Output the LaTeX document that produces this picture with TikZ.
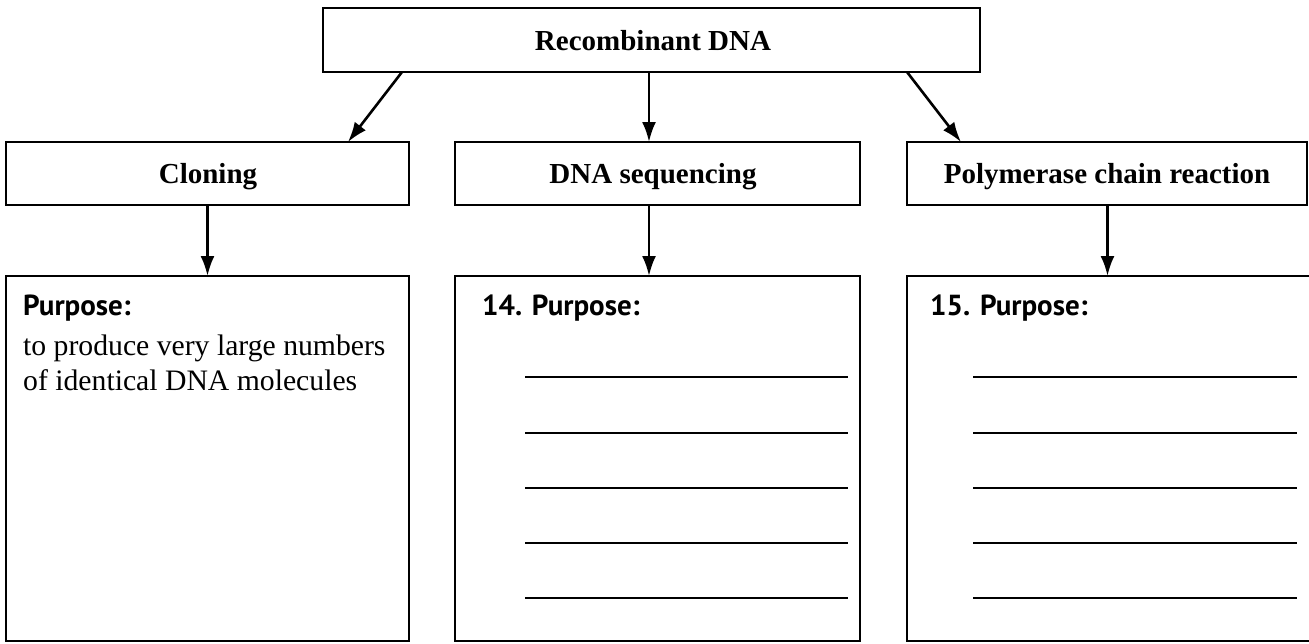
\documentclass[tikz,border=0pt]{standalone}
\usepackage{fontspec}
\setmainfont{Liberation Serif}
\newfontfamily\purpfont{PT Sans}
\usetikzlibrary{arrows.meta,calc}
\tikzset{
  box/.style={draw,line width=2.6pt,rectangle,inner sep=0pt,outer sep=0pt},
  lbl/.style={font=\fontsize{29}{34}\selectfont\bfseries,inner sep=0pt},
  purp/.style={font=\purpfont\fontsize{29}{34}\selectfont\bfseries,inner sep=0pt,anchor=base west},
  body/.style={font=\fontsize{29.7}{35}\selectfont,inner sep=0pt,anchor=base west},
  arr/.style={line width=2.6pt,-{Latex[length=20pt,width=14pt]}},
  rulel/.style={line width=1.8pt},
}
\begin{document}
\begin{tikzpicture}[x=1pt,y=-1pt]
\useasboundingbox (0,0) rectangle (1309,643);
\fill[white] (0,0) rectangle (1309,643);
% top
\node[box,minimum width=657pt,minimum height=64pt,anchor=north west] (top) at (323,8) {};
\node[lbl,anchor=base] (toplbl) at (653,50) {Recombinant DNA};
% row 2
\node[box,minimum width=403pt,minimum height=63pt,anchor=north west] (clon) at (6,142) {};
\node[box,minimum width=405pt,minimum height=63pt,anchor=north west] (dna) at (455,142) {};
\node[box,minimum width=400pt,minimum height=63pt,anchor=north west] (pcr) at (907,142) {};
\node[lbl,anchor=base] (clonlbl) at (208,183) {Cloning};
\node[lbl,anchor=base] (dnalbl) at (653,183) {DNA sequencing};
\node[lbl,anchor=base] (pcrlbl) at (1107,183) {Polymerase chain reaction};
% row 3
\node[box,minimum width=403pt,minimum height=365pt,anchor=north west] (p1) at (6,276) {};
\node[box,minimum width=405pt,minimum height=365pt,anchor=north west] (p2) at (455,276) {};
\node[box,minimum width=405pt,minimum height=365pt,anchor=north west] (p3) at (907,276) {};
% arrows
\draw[arr] ([xshift=79pt]top.south west) -- ([xshift=-61pt]clon.north east);
\draw[arr] ([xshift=-2.5pt]top.south) -- ([xshift=-2.5pt]top.south |- dna.north);
\draw[arr] ([xshift=-73pt]top.south east) -- ([xshift=54pt]pcr.north west);
\draw[arr] (clon.south) -- (clon.south |- p1.north);
\draw[arr] ([xshift=-8.5pt]dna.south) -- ([xshift=-8.5pt]dna.south |- p2.north);
\draw[arr] ([xshift=0.5pt]pcr.south) -- ([xshift=0.5pt]pcr.south |- p3.north);
% texts
\node[purp] (t1) at ($(p1.north west)+(17,39)$) {Purpose:};
\node[body] (t1a) at ($(p1.north west)+(17,79)$) {to produce very large numbers};
\node[body] (t1b) at ($(p1.north west)+(17,114)$) {of identical DNA molecules};
\node[purp] (t2) at ($(p2.north west)+(27,39)$) {14. Purpose:};
\node[purp] (t3) at ($(p3.north west)+(23,39)$) {15. Purpose:};
% answer lines
\foreach \yy in {101,157,212,267,322} {
  \draw[rulel] ($(p2.north west)+(70,\yy)$) -- ($(p2.north west)+(393,\yy)$);
  \draw[rulel] ($(p3.north west)+(66,\yy)$) -- ($(p3.north west)+(390,\yy)$);
}
\end{tikzpicture}
\end{document}
